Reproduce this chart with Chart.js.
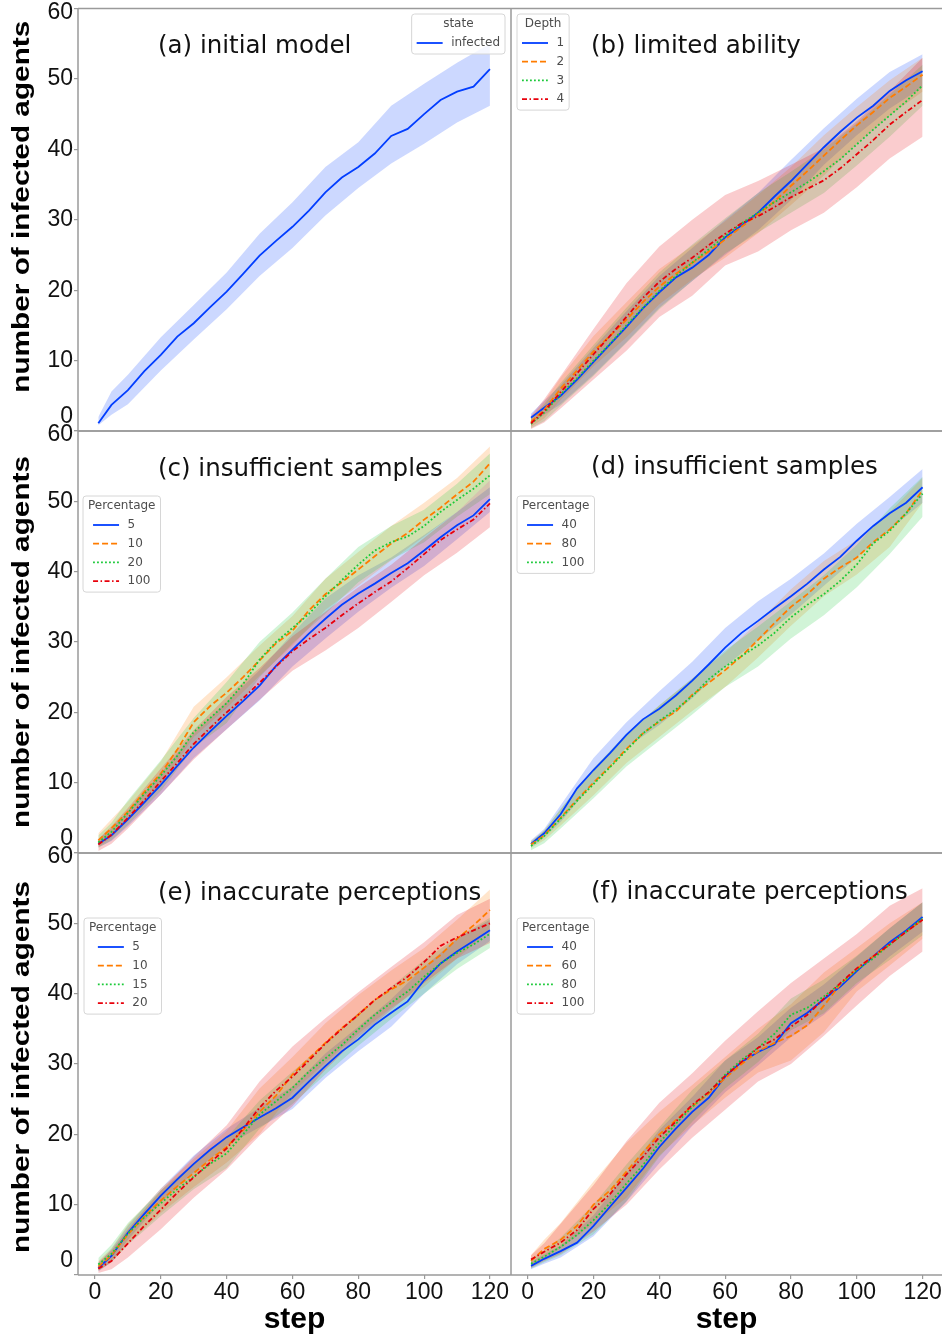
<!DOCTYPE html>
<html>
<head>
<meta charset="utf-8">
<script src="https://cdn.jsdelivr.net/npm/chart.js@4.4.0/dist/chart.umd.min.js"></script>
<style>
  html, body { margin: 0; padding: 0; background: #fff; }
  #fig { position: relative; width: 942px; height: 1339px; overflow: hidden; background: #fff; }
  #fig canvas { position: absolute; }
</style>
</head>
<body>
<div id="fig">
  <canvas id="pa" width="511" height="432" style="left:0px;top:0px"></canvas>
  <canvas id="pb" width="431" height="432" style="left:511px;top:0px"></canvas>
  <canvas id="pc" width="511" height="431" style="left:0px;top:423px"></canvas>
  <canvas id="pd" width="431" height="431" style="left:511px;top:423px"></canvas>
  <canvas id="pe" width="511" height="494" style="left:0px;top:845px"></canvas>
  <canvas id="pf" width="431" height="494" style="left:511px;top:845px"></canvas>
</div>
<script>
// steps at which the mean lines were read, and the coarser steps for the bands
const steps = [1, 5, 10, 15, 20, 25, 30, 35, 40, 45, 50, 55, 60, 65, 70, 75, 80, 85, 90, 95, 100, 105, 110, 115, 120];
const bandSteps = [1, 5, 10, 20, 30, 40, 50, 60, 70, 80, 90, 100, 110, 120];
const xTickVals = [0, 20, 40, 60, 80, 100, 120];
const yTickVals = [0, 10, 20, 30, 40, 50, 60];

// (a) initial model
const aLabels = ['infected'];
const aInfected   = [1.1, 3.7, 5.8, 8.5, 10.8, 13.4, 15.3, 17.6, 19.8, 22.3, 24.9, 27.0, 29.0, 31.3, 33.9, 36.0, 37.5, 39.4, 41.9, 42.9, 45.0, 47.0, 48.2, 48.9, 51.4];
const aInfectedHi = [2.0, 5.6, 8.0, 13.3, 17.9, 22.5, 28.0, 32.5, 37.5, 41.0, 46.2, 49.3, 52.3, 55.0];
const aInfectedLo = [0.8, 2.3, 3.8, 8.6, 13.0, 17.3, 22.0, 26.0, 30.6, 34.5, 38.0, 40.8, 43.8, 46.2];

// (b) limited ability, Depth
const bLabels = ['1', '2', '3', '4'];
const bD1 = [1.9, 3.3, 5.0, 7.3, 9.8, 12.3, 14.8, 17.4, 19.7, 21.8, 23.2, 25.0, 27.5, 29.2, 31.0, 33.3, 35.5, 37.9, 40.3, 42.5, 44.5, 46.2, 48.3, 49.8, 51.1];
const bD2 = [1.3, 3.0, 6.0, 8.6, 11.3, 13.5, 15.8, 18.3, 20.5, 22.3, 23.9, 25.5, 27.2, 29.0, 30.8, 32.6, 34.8, 36.9, 39.1, 41.3, 43.4, 45.3, 47.3, 48.9, 50.6];
const bD3 = [1.0, 2.6, 5.2, 7.5, 10.0, 12.4, 15.0, 17.5, 19.9, 22.0, 23.9, 25.8, 27.7, 29.5, 31.0, 32.5, 33.9, 35.3, 36.9, 38.6, 40.7, 42.8, 44.8, 46.8, 49.1];
const bD4 = [1.1, 2.8, 5.5, 8.2, 10.9, 13.5, 16.2, 18.9, 21.2, 23.0, 24.6, 26.4, 28.0, 29.5, 30.5, 31.8, 33.2, 34.4, 35.6, 37.3, 39.3, 41.3, 43.5, 45.3, 47.0];
const bD1Hi = [2.5, 4.3, 6.5, 11.8, 17.0, 22.0, 26.0, 30.0, 33.8, 38.5, 43.0, 47.2, 51.0, 53.5];
const bD1Lo = [1.0, 2.3, 3.8, 8.0, 12.6, 17.5, 21.3, 25.0, 28.5, 32.8, 37.8, 42.0, 45.8, 48.8];
const bD2Hi = [2.0, 4.2, 7.6, 13.5, 18.3, 23.0, 26.3, 29.8, 33.5, 37.5, 42.0, 46.0, 49.8, 53.0];
const bD2Lo = [0.6, 1.8, 4.4, 9.2, 13.3, 18.0, 21.5, 24.6, 28.1, 32.1, 36.3, 40.8, 44.8, 48.2];
const bD3Hi = [1.8, 3.8, 6.8, 12.2, 17.5, 22.5, 26.5, 30.2, 33.8, 36.8, 40.0, 43.7, 47.8, 52.0];
const bD3Lo = [0.4, 1.4, 3.6, 7.8, 12.5, 17.3, 21.3, 25.2, 28.2, 31.0, 33.8, 37.7, 41.8, 46.2];
const bD4Hi = [2.2, 4.5, 7.8, 14.5, 21.0, 26.2, 30.0, 33.5, 35.5, 37.8, 40.2, 44.0, 48.3, 53.0];
const bD4Lo = [0.3, 1.2, 3.2, 7.3, 11.4, 16.2, 19.2, 23.5, 25.5, 28.5, 31.0, 34.6, 38.7, 41.8];

// (c) insufficient samples, Percentage
const cLabels = ['5', '10', '20', '100'];
const cP5   = [1.3, 2.5, 4.8, 7.2, 9.7, 12.4, 15.0, 17.3, 19.5, 21.6, 23.8, 26.6, 28.9, 31.2, 33.3, 35.3, 36.9, 38.3, 39.8, 41.2, 43.0, 44.9, 46.6, 48.0, 50.3];
const cP10  = [1.8, 3.5, 5.9, 8.7, 11.3, 14.7, 18.6, 20.9, 22.8, 25.0, 27.4, 29.8, 31.6, 34.5, 36.8, 38.5, 40.3, 42.2, 44.0, 45.5, 47.4, 49.1, 51.0, 52.8, 55.4];
const cP20  = [1.5, 3.0, 5.7, 8.4, 11.0, 13.8, 17.2, 19.2, 21.3, 24.0, 27.5, 30.0, 32.0, 34.0, 36.5, 38.8, 41.0, 43.0, 44.2, 45.0, 46.5, 48.5, 50.2, 51.8, 53.7];
const cP100 = [1.2, 2.6, 5.0, 7.5, 10.2, 12.8, 15.5, 17.8, 20.0, 22.0, 24.2, 26.5, 28.7, 30.4, 32.0, 33.8, 35.5, 37.1, 38.6, 40.5, 42.5, 44.5, 46.0, 47.4, 49.7];
const cP5Hi   = [2.0, 3.5, 6.0, 11.3, 17.0, 21.5, 26.0, 31.2, 36.2, 39.5, 42.0, 45.2, 48.5, 52.0];
const cP5Lo   = [0.8, 1.7, 3.8, 8.3, 13.5, 17.6, 21.7, 26.5, 30.5, 34.3, 37.7, 40.8, 44.6, 48.5];
const cP10Hi  = [2.8, 4.8, 7.3, 13.0, 20.8, 25.0, 29.5, 33.7, 39.0, 42.8, 46.5, 49.8, 53.3, 57.8];
const cP10Lo  = [0.8, 2.2, 4.6, 9.6, 16.5, 20.6, 25.2, 29.5, 34.6, 38.0, 41.6, 45.0, 48.5, 53.0];
const cP20Hi  = [2.5, 4.3, 7.5, 13.2, 19.2, 24.3, 30.0, 34.2, 39.0, 43.5, 46.5, 48.8, 52.5, 56.8];
const cP20Lo  = [0.7, 1.8, 4.0, 8.8, 15.0, 18.5, 25.0, 29.8, 34.0, 38.5, 41.7, 44.2, 47.8, 51.0];
const cP100Hi = [2.0, 3.8, 6.4, 12.0, 17.5, 22.2, 26.3, 30.8, 34.3, 37.8, 41.0, 44.8, 48.5, 53.0];
const cP100Lo = [0.3, 1.3, 3.5, 8.3, 13.3, 17.6, 21.8, 25.9, 28.8, 32.0, 35.7, 39.5, 42.7, 46.3];

// (d) insufficient samples, Percentage
const dLabels = ['40', '80', '100'];
const dP40  = [1.3, 2.8, 5.5, 9.2, 11.8, 14.2, 16.8, 19.0, 20.5, 22.4, 24.5, 26.8, 29.2, 31.3, 33.0, 34.8, 36.5, 38.3, 40.3, 42.1, 44.4, 46.5, 48.3, 49.8, 52.0];
const dP80  = [1.2, 2.5, 5.0, 7.6, 10.0, 12.3, 14.8, 17.0, 18.7, 20.1, 22.5, 24.2, 26.0, 28.0, 30.3, 32.7, 35.0, 36.8, 39.0, 40.6, 42.0, 44.2, 46.0, 48.3, 51.6];
const dP100 = [1.0, 2.4, 4.9, 7.4, 9.8, 12.2, 14.6, 17.0, 18.8, 20.4, 22.3, 24.7, 26.5, 28.0, 29.5, 31.3, 33.5, 35.3, 36.8, 38.7, 41.0, 44.0, 45.8, 48.3, 51.1];
const dP40Hi  = [1.8, 3.4, 6.8, 13.5, 18.6, 23.0, 27.2, 32.0, 35.8, 39.0, 42.6, 46.8, 50.6, 54.6];
const dP40Lo  = [0.8, 2.2, 4.4, 10.0, 15.0, 18.2, 22.0, 26.5, 30.3, 33.9, 38.0, 42.0, 46.0, 49.8];
const dP80Hi  = [1.7, 3.2, 6.2, 12.0, 16.8, 21.0, 24.8, 28.5, 32.8, 37.5, 41.5, 44.5, 48.5, 53.3];
const dP80Lo  = [0.7, 1.8, 3.9, 8.2, 12.8, 16.5, 20.2, 23.6, 27.8, 32.3, 36.5, 39.6, 43.5, 49.8];
const dP100Hi = [1.6, 3.2, 6.3, 12.0, 17.0, 21.0, 24.8, 28.8, 32.2, 35.8, 39.5, 43.8, 49.0, 53.5];
const dP100Lo = [0.4, 1.4, 3.5, 7.8, 12.3, 16.0, 19.7, 23.6, 26.5, 30.5, 33.8, 37.8, 42.5, 47.8];

// (e) inaccurate perceptions, Percentage
const eLabels = ['5', '10', '15', '20'];
const eP5  = [1.0, 2.7, 6.0, 8.7, 11.3, 13.6, 15.8, 17.8, 19.6, 21.0, 22.4, 23.7, 25.2, 27.5, 29.7, 31.8, 33.5, 35.6, 37.3, 38.9, 41.9, 44.3, 46.0, 47.5, 49.0];
const eP10 = [1.2, 2.8, 5.8, 8.3, 10.6, 12.6, 14.5, 16.4, 18.2, 20.6, 23.2, 25.5, 28.5, 30.8, 33.0, 35.1, 37.0, 39.1, 40.6, 41.9, 43.7, 45.5, 47.8, 49.7, 51.9];
const eP15 = [1.5, 3.0, 5.9, 8.2, 10.2, 12.2, 14.0, 15.8, 17.3, 20.0, 22.8, 24.7, 26.6, 28.9, 30.8, 32.7, 34.9, 37.0, 38.7, 40.3, 42.4, 44.3, 45.8, 47.0, 48.5];
const eP20 = [0.9, 2.0, 4.5, 7.0, 9.3, 11.7, 13.9, 16.0, 18.0, 20.8, 23.8, 26.2, 28.2, 30.5, 32.9, 35.0, 37.0, 39.1, 40.8, 42.4, 44.5, 46.8, 48.0, 49.0, 50.0];
const eP5Hi  = [1.6, 3.7, 7.0, 12.3, 17.0, 20.8, 23.8, 26.8, 31.5, 35.3, 39.2, 43.8, 47.8, 50.5];
const eP5Lo  = [0.5, 1.8, 5.0, 10.3, 14.6, 18.4, 21.0, 23.6, 28.0, 31.8, 35.3, 40.0, 44.2, 47.5];
const eP10Hi = [2.0, 3.8, 7.2, 12.3, 16.5, 20.5, 26.5, 31.0, 35.8, 39.8, 43.3, 46.5, 50.5, 54.8];
const eP10Lo = [0.6, 1.8, 4.4, 8.8, 12.5, 16.0, 20.0, 26.0, 30.2, 34.3, 38.0, 41.0, 45.0, 49.0];
const eP15Hi = [2.4, 4.3, 7.4, 12.0, 15.8, 19.5, 24.8, 28.9, 33.0, 37.3, 41.0, 44.8, 48.0, 50.8];
const eP15Lo = [0.6, 1.8, 4.3, 8.4, 12.2, 15.2, 20.8, 24.3, 28.5, 32.6, 36.4, 40.0, 43.5, 46.5];
const eP20Hi = [1.8, 3.5, 6.5, 12.0, 16.8, 21.3, 27.5, 32.5, 36.5, 40.2, 43.8, 47.3, 51.2, 53.5];
const eP20Lo = [0.3, 0.8, 2.5, 6.5, 11.0, 15.0, 19.8, 24.0, 29.2, 33.8, 37.7, 41.5, 45.0, 47.2];

// (f) inaccurate perceptions, Percentage
const fLabels = ['40', '60', '80', '100'];
const fP40  = [1.3, 2.3, 3.4, 4.6, 7.0, 9.7, 12.4, 15.1, 18.2, 20.8, 23.2, 25.2, 28.2, 30.3, 31.7, 32.8, 35.8, 37.3, 39.2, 41.0, 43.2, 45.3, 47.3, 49.0, 50.9];
const fP60  = [2.0, 3.7, 5.0, 7.0, 10.0, 12.0, 14.7, 17.4, 20.0, 22.0, 24.0, 25.8, 28.0, 30.0, 31.8, 33.0, 34.0, 35.5, 38.3, 41.3, 43.5, 45.3, 47.0, 48.8, 50.5];
const fP80  = [1.6, 2.6, 4.0, 5.7, 7.8, 10.2, 13.0, 15.6, 18.8, 21.5, 23.9, 26.0, 28.5, 30.6, 32.3, 34.3, 37.0, 38.0, 39.6, 41.4, 43.4, 45.0, 47.0, 48.8, 50.7];
const fP100 = [2.2, 3.3, 4.6, 6.4, 9.4, 11.5, 14.3, 16.8, 19.6, 21.8, 24.2, 26.0, 28.3, 30.3, 32.3, 33.5, 35.3, 37.0, 39.3, 41.5, 43.6, 45.3, 47.0, 48.8, 50.5];
const fP40Hi  = [1.9, 2.9, 4.2, 8.5, 14.5, 20.6, 25.3, 30.5, 33.8, 38.0, 41.3, 45.3, 49.3, 53.0];
const fP40Lo  = [0.8, 1.6, 2.5, 5.5, 10.4, 15.9, 21.2, 26.0, 29.8, 33.8, 37.0, 41.2, 45.3, 48.8];
const fP60Hi  = [2.8, 5.0, 7.4, 13.3, 18.8, 23.2, 27.0, 31.0, 35.0, 38.5, 43.0, 46.5, 50.0, 53.0];
const fP60Lo  = [1.2, 2.5, 3.8, 7.3, 11.0, 17.0, 21.3, 25.2, 28.8, 30.5, 34.5, 40.3, 44.0, 47.8];
const fP80Hi  = [2.3, 3.5, 5.3, 10.0, 15.7, 21.0, 26.3, 30.5, 34.3, 39.3, 42.0, 45.4, 49.3, 53.0];
const fP80Lo  = [0.9, 1.8, 2.8, 5.8, 10.5, 16.8, 21.8, 26.5, 30.3, 34.8, 37.2, 41.5, 44.8, 48.3];
const fP100Hi = [2.8, 4.5, 7.3, 12.8, 19.0, 24.5, 28.7, 33.3, 37.5, 41.5, 45.0, 48.5, 52.5, 55.0];
const fP100Lo = [1.0, 2.0, 3.0, 6.2, 10.0, 15.0, 19.5, 23.5, 27.5, 30.0, 34.0, 38.3, 42.5, 46.0];

// styles (seaborn "bright" colours, one line style per hue)
const palette  = ['#023eff', '#ff7c00', '#1ac938', '#e8000b'];
const bandFill = ['rgba(2,62,255,0.2)', 'rgba(255,124,0,0.2)', 'rgba(26,201,56,0.2)', 'rgba(232,0,11,0.2)'];
const dashes   = [[], [6, 3], [1.8, 2.2], [5, 2.5, 1.5, 2.5]];
const TICK_FONT = { family: '"Liberation Sans", Arial, sans-serif', size: 23 };

function makeDatasets(labels, means, his, los) {
    const ds = [];
    // bands first (upper filled down to the lower one right after it)
    labels.forEach((lab, i) => {
        ds.push({
            label: lab + '_hi', data: bandSteps.map((s, k) => ({ x: s, y: his[i][k] })),
            borderWidth: 0, borderColor: 'transparent', pointRadius: 0,
            fill: '+1', backgroundColor: bandFill[i], order: 10 - i
        });
        ds.push({
            label: lab + '_lo', data: bandSteps.map((s, k) => ({ x: s, y: los[i][k] })),
            borderWidth: 0, borderColor: 'transparent', pointRadius: 0,
            fill: false, order: 10 - i
        });
    });
    labels.forEach((lab, i) => {
        ds.push({
            label: lab, data: steps.map((s, k) => ({ x: s, y: means[i][k] })),
            borderColor: palette[i], borderWidth: 1.8, borderDash: dashes[i],
            pointRadius: 0, fill: false, order: -i
        });
    });
    return ds;
}

// frame, panel title, legend box and y title
const panelDecor = {
    id: 'panelDecor',
    beforeDraw(chart) {
        const ys = chart.scales.y;
        if (!ys.options.display) return;
        // the 0 and 60 labels sit inside their own panel, like the reference
        ys.getLabelItems().forEach(it => {
            if (it.label === '0') it.options.translation[1] -= 14;
            if (it.label === '60') it.options.translation[1] += 4;
        });
    },
    afterDraw(chart, args, o) {
        const ctx = chart.ctx, a = chart.chartArea;
        ctx.save();
        ctx.setLineDash([]);
        ctx.strokeStyle = '#9a9a9a';
        ctx.lineWidth = 1.5;
        ctx.beginPath();
        ctx.moveTo(a.left, a.top); ctx.lineTo(a.right, a.top);
        ctx.moveTo(a.left, a.bottom); ctx.lineTo(a.right, a.bottom);
        ctx.moveTo(a.left, a.top); ctx.lineTo(a.left, a.bottom);
        if (o.frameRight) { ctx.moveTo(a.right, a.top); ctx.lineTo(a.right, a.bottom); }
        ctx.stroke();

        // panel title
        ctx.font = '24.5px "DejaVu Sans"';
        ctx.fillStyle = '#111';
        ctx.textAlign = 'left';
        ctx.textBaseline = 'middle';
        ctx.fillText(o.title, a.left + 80, a.top + o.titleDy);

        // legend
        const lg = o.legend;
        ctx.font = '12px "DejaVu Sans"';
        const lineLen = 26, gap = 8.5, pad = 5, rowH = 18.7;
        const textW = Math.max(...lg.labels.map(t => ctx.measureText(t).width));
        const entW = lineLen + gap + textW;
        const titleW = ctx.measureText(lg.title).width;
        const w = Math.max(entW, titleW) + 2 * pad;
        const h = 10 + 19 + (lg.labels.length - 1) * rowH + 11;
        const x = lg.right != null ? a.right - lg.right - w : a.left + lg.left;
        const y = a.top + lg.top;
        const r = 3;
        ctx.beginPath();
        ctx.moveTo(x + r, y); ctx.lineTo(x + w - r, y); ctx.arcTo(x + w, y, x + w, y + r, r);
        ctx.lineTo(x + w, y + h - r); ctx.arcTo(x + w, y + h, x + w - r, y + h, r);
        ctx.lineTo(x + r, y + h); ctx.arcTo(x, y + h, x, y + h - r, r);
        ctx.lineTo(x, y + r); ctx.arcTo(x, y, x + r, y, r);
        ctx.closePath();
        ctx.fillStyle = 'rgba(255,255,255,0.8)';
        ctx.fill();
        ctx.strokeStyle = '#d6d6d6';
        ctx.lineWidth = 1;
        ctx.stroke();
        ctx.fillStyle = '#4d4d4d';
        ctx.textAlign = 'center';
        ctx.fillText(lg.title, x + w / 2, y + 10);
        const ex = x + (w - entW) / 2;
        lg.labels.forEach((t, i) => {
            const yy = y + 29 + i * rowH;
            ctx.strokeStyle = palette[i];
            ctx.lineWidth = 1.8;
            ctx.setLineDash(dashes[i]);
            ctx.beginPath(); ctx.moveTo(ex, yy); ctx.lineTo(ex + lineLen, yy); ctx.stroke();
            ctx.setLineDash([]);
            ctx.fillStyle = '#4d4d4d';
            ctx.textAlign = 'left';
            ctx.fillText(t, ex + lineLen + gap, yy);
        });

        // y axis title, long and thin like the reference
        if (o.ylabel) {
            ctx.translate(22, (a.top + a.bottom) / 2 + o.ylabelDy);
            ctx.rotate(-Math.PI / 2);
            ctx.scale(1.24, 1);
            ctx.font = 'bold 24px "Liberation Sans", Arial, sans-serif';
            ctx.fillStyle = '#000';
            ctx.textAlign = 'center';
            ctx.textBaseline = 'middle';
            ctx.fillText(o.ylabel, 0, 0);
        }
        ctx.restore();
    }
};

function makePanel(p) {
    const isLeft = p.left;
    new Chart(document.getElementById(p.id), {
        type: 'line',
        data: { datasets: makeDatasets(p.labels, p.means, p.his, p.los) },
        options: {
            responsive: false,
            animation: false,
            devicePixelRatio: 1,
            layout: { padding: p.padding },
            plugins: {
                legend: { display: false },
                tooltip: { enabled: false },
                panelDecor: {
                    title: p.title, titleDy: p.titleDy, frameRight: isLeft,
                    legend: p.legend, ylabel: isLeft ? 'number of infected agents' : null, ylabelDy: p.ylabelDy || 0
                }
            },
            scales: {
                x: {
                    type: 'linear',
                    min: isLeft ? -5.17 : -5.08,
                    max: isLeft ? 126.4 : 125.9,
                    display: p.bottom,
                    afterBuildTicks: s => { s.ticks = xTickVals.map(v => ({ value: v })); },
                    afterFit: s => {
                        s.paddingLeft = 0; s.paddingRight = 0;
                        s.height = p.bottom ? 64 : 0;
                    },
                    grid: { drawOnChartArea: false, drawTicks: true, tickLength: 4, color: '#9a9a9a', lineWidth: 1.2 },
                    border: { display: false },
                    ticks: { font: TICK_FONT, color: '#111', padding: 0, maxRotation: 0, autoSkip: false },
                    title: {
                        display: true, text: 'step', color: '#000',
                        font: { family: '"Liberation Sans", Arial, sans-serif', size: 30, weight: 'bold' },
                        padding: { top: 0, bottom: 1 }
                    }
                },
                y: {
                    type: 'linear',
                    min: 0,
                    max: 60,
                    display: isLeft,
                    afterBuildTicks: s => { s.ticks = yTickVals.map(v => ({ value: v })); },
                    afterFit: s => {
                        s.paddingTop = 0; s.paddingBottom = 0;
                        s.width = isLeft ? 78 : 0;
                    },
                    grid: { drawOnChartArea: false, drawTicks: true, tickLength: 4, color: '#9a9a9a', lineWidth: 1.2 },
                    border: { display: false },
                    ticks: { font: TICK_FONT, color: '#111', padding: 1 }
                }
            }
        },
        plugins: [panelDecor]
    });
}

makePanel({
    id: 'pa', left: true, bottom: false, padding: { top: 8.5, bottom: 1, left: 0, right: 0 },
    title: '(a) initial model', titleDy: 38, ylabelDy: -13,
    legend: { title: 'state', labels: aLabels, right: 6, top: 5.5 },
    labels: aLabels, means: [aInfected], his: [aInfectedHi], los: [aInfectedLo]
});
makePanel({
    id: 'pb', left: false, bottom: false, padding: { top: 8.5, bottom: 1, left: 0, right: 0 },
    title: '(b) limited ability', titleDy: 38.5,
    legend: { title: 'Depth', labels: bLabels, left: 6, top: 5.5 },
    labels: bLabels, means: [bD1, bD2, bD3, bD4], his: [bD1Hi, bD2Hi, bD3Hi, bD4Hi], los: [bD1Lo, bD2Lo, bD3Lo, bD4Lo]
});
makePanel({
    id: 'pc', left: true, bottom: false, padding: { top: 8, bottom: 1, left: 0, right: 0 },
    title: '(c) insufficient samples', titleDy: 39, ylabelDy: 0,
    legend: { title: 'Percentage', labels: cLabels, left: 5, top: 65 },
    labels: cLabels, means: [cP5, cP10, cP20, cP100], his: [cP5Hi, cP10Hi, cP20Hi, cP100Hi], los: [cP5Lo, cP10Lo, cP20Lo, cP100Lo]
});
makePanel({
    id: 'pd', left: false, bottom: false, padding: { top: 8, bottom: 1, left: 0, right: 0 },
    title: '(d) insufficient samples', titleDy: 37,
    legend: { title: 'Percentage', labels: dLabels, left: 6, top: 65 },
    labels: dLabels, means: [dP40, dP80, dP100], his: [dP40Hi, dP80Hi, dP100Hi], los: [dP40Lo, dP80Lo, dP100Lo]
});
makePanel({
    id: 'pe', left: true, bottom: true, padding: { top: 8, bottom: 0, left: 0, right: 0 },
    title: '(e) inaccurate perceptions', titleDy: 41, ylabelDy: 3,
    legend: { title: 'Percentage', labels: eLabels, left: 6, top: 65 },
    labels: eLabels, means: [eP5, eP10, eP15, eP20], his: [eP5Hi, eP10Hi, eP15Hi, eP20Hi], los: [eP5Lo, eP10Lo, eP15Lo, eP20Lo]
});
makePanel({
    id: 'pf', left: false, bottom: true, padding: { top: 8, bottom: 0, left: 0, right: 0 },
    title: '(f) inaccurate perceptions', titleDy: 40,
    legend: { title: 'Percentage', labels: fLabels, left: 6, top: 65 },
    labels: fLabels, means: [fP40, fP60, fP80, fP100], his: [fP40Hi, fP60Hi, fP80Hi, fP100Hi], los: [fP40Lo, fP60Lo, fP80Lo, fP100Lo]
});
</script>
</body>
</html>
